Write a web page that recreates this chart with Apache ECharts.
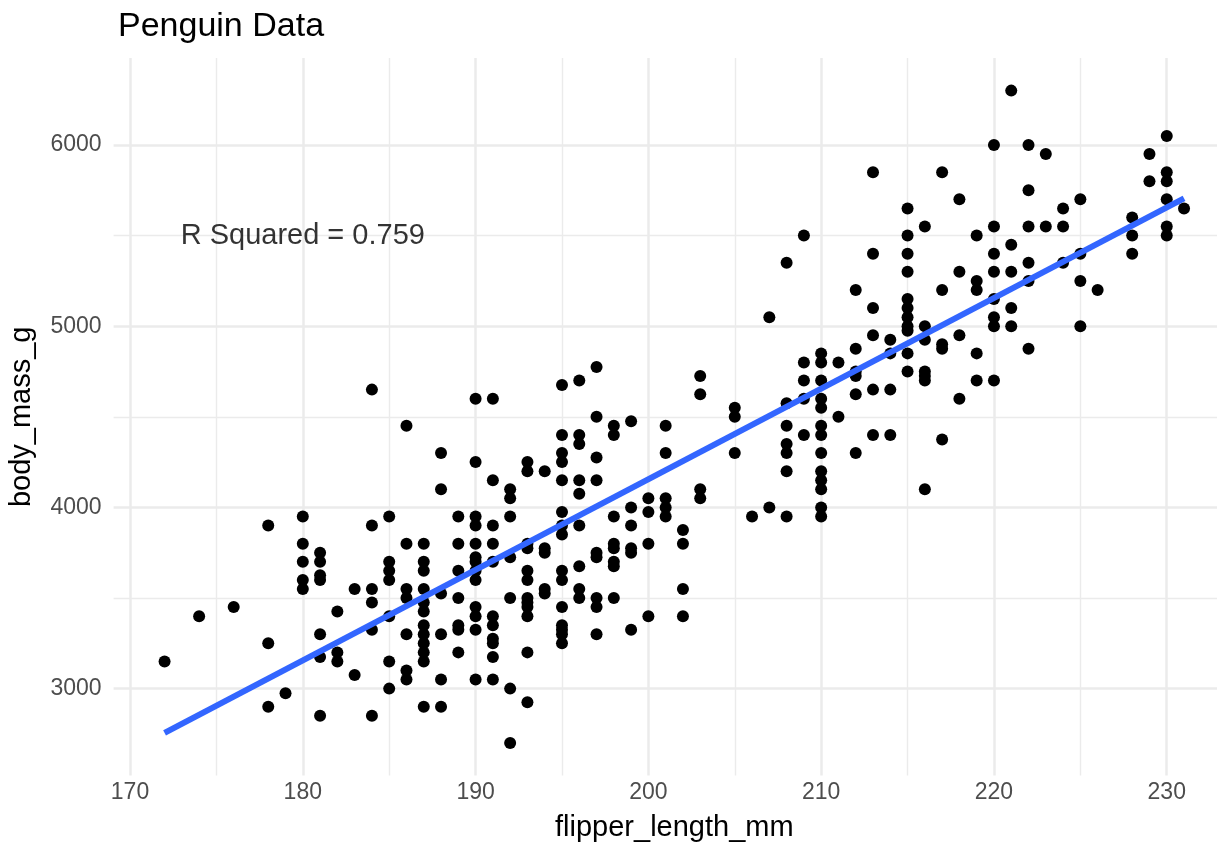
<!DOCTYPE html>
<html>
<head>
<meta charset="utf-8">
<script src="https://cdn.jsdelivr.net/npm/echarts@6/dist/echarts.min.js"></script>
<style>
  html, body { margin: 0; padding: 0; background: #ffffff; }
  #chart { width: 1217px; height: 847px; }
</style>
</head>
<body>
<div id="chart"></div>
<script>
// Flipper lengths (mm) that occur in the sample, and the body masses (g) recorded at each
const flipperLength = [
  172, 174, 176, 178, 179, 180, 181, 182, 183, 184, 185, 186, 187, 188, 189, 190,
  191, 192, 193, 194, 195, 196, 197, 198, 199, 200, 201, 202, 203, 205, 206, 207,
  208, 209, 210, 211, 212, 213, 214, 215, 216, 217, 218, 219, 220, 221, 222, 223,
  224, 225, 226, 228, 229, 230, 231
];
const bodyMass = [
  [3150],
  [3400],
  [3450],
  [3900, 3250, 2900],
  [2975],
  [3950, 3800, 3700, 3600, 3550],
  [3750, 3700, 3625, 3600, 3300, 3175, 2850],
  [3425, 3200, 3150],
  [3550, 3075],
  [4650, 3900, 3550, 3475, 3325, 2850],
  [3950, 3700, 3650, 3600, 3400, 3150, 3000],
  [4450, 3800, 3550, 3500, 3300, 3100, 3050],
  [3800, 3700, 3650, 3550, 3475, 3425, 3350, 3300, 3250, 3200, 3150, 2900],
  [4300, 4100, 3525, 3300, 3050, 2900],
  [3950, 3800, 3650, 3500, 3350, 3325, 3200],
  [4600, 4250, 3950, 3900, 3800, 3725, 3700, 3650, 3600, 3450, 3400, 3325, 3050],
  [4600, 4150, 3900, 3800, 3700, 3400, 3350, 3275, 3250, 3175, 3050],
  [4100, 4050, 3950, 3725, 3500, 3000, 2700],
  [4250, 4200, 3800, 3775, 3650, 3600, 3500, 3475, 3450, 3400, 3200, 2925],
  [4200, 3775, 3750, 3550, 3525],
  [4675, 4400, 4300, 4250, 4150, 3975, 3900, 3850, 3650, 3600, 3450, 3350, 3325, 3300, 3250],
  [4700, 4400, 4350, 4150, 4075, 3900, 3675, 3550, 3500],
  [4775, 4500, 4275, 4150, 3750, 3725, 3500, 3450, 3300],
  [4450, 4400, 3950, 3800, 3775, 3700, 3675, 3500],
  [4475, 4000, 3900, 3775, 3750, 3325],
  [4050, 3975, 3800, 3400],
  [4450, 4300, 4050, 4000, 3950],
  [3875, 3800, 3550, 3400],
  [4725, 4625, 4100, 4050],
  [4550, 4500, 4300],
  [3950],
  [5050, 4000],
  [5350, 4575, 4450, 4350, 4300, 4200, 3950],
  [5500, 4800, 4700, 4600, 4400],
  [4850, 4800, 4700, 4600, 4550, 4450, 4400, 4300, 4200, 4150, 4100, 4000, 3950],
  [4800, 4500],
  [5200, 4875, 4750, 4725, 4625, 4300],
  [5850, 5400, 5100, 4950, 4650, 4400],
  [4925, 4850, 4650, 4400],
  [5650, 5500, 5400, 5300, 5150, 5100, 5050, 5000, 4975, 4850, 4750],
  [5550, 5000, 4925, 4750, 4725, 4700, 4100],
  [5850, 5200, 4900, 4875, 4375],
  [5700, 5300, 4950, 4600],
  [5500, 5250, 5200, 4850, 4700],
  [6000, 5550, 5400, 5300, 5150, 5050, 5000, 4700],
  [6300, 5450, 5300, 5100, 5000],
  [6000, 5750, 5550, 5350, 5250, 4875],
  [5950, 5550],
  [5650, 5550, 5350],
  [5700, 5400, 5250, 5000],
  [5200],
  [5600, 5500, 5400],
  [5950, 5800],
  [6050, 5850, 5800, 5700, 5550, 5500],
  [5650]
];

// Axis breaks
const xMajorTicks = [170, 180, 190, 200, 210, 220, 230];
const xMinorTicks = [175, 185, 195, 205, 215, 225];
const yMajorTicks = [3000, 4000, 5000, 6000];
const yMinorTicks = [3500, 4500, 5500];

// Text
const chartTitle = 'Penguin Data';
const xTitle = 'flipper_length_mm';
const yTitle = 'body_mass_g';
const fitLabel = 'R Squared = 0.759';
const fitLabelAt = [180, 5500];

// (x, y) pairs for every penguin
const points = [];
flipperLength.forEach((fl, i) => bodyMass[i].forEach(m => points.push([fl, m])));

// Ordinary least-squares fit of mass on flipper length
const n = points.length;
const meanX = points.reduce((s, p) => s + p[0], 0) / n;
const meanY = points.reduce((s, p) => s + p[1], 0) / n;
let sxy = 0, sxx = 0;
points.forEach(p => { sxy += (p[0] - meanX) * (p[1] - meanY); sxx += (p[0] - meanX) ** 2; });
const slope = sxy / sxx;
const intercept = meanY - slope * meanX;
const xLo = Math.min(...flipperLength), xHi = Math.max(...flipperLength);
const fitLine = [[xLo, intercept + slope * xLo], [xHi, intercept + slope * xHi]];

// 5% padding around the data range on both axes
const allMass = points.map(p => p[1]);
const yLo = Math.min(...allMass), yHi = Math.max(...allMass);
const xPad = (xHi - xLo) * 0.05, yPad = (yHi - yLo) * 0.05;
const xRange = [xLo - xPad, xHi + xPad];
const yRange = [yLo - yPad, yHi + yPad];

const FONT = '"Liberation Sans", Arial, Helvetica, sans-serif';
const GRID = '#EBEBEB';
const plain = v => String(Math.round(v));

function xAxisDef(ticks, width, withLabels, pos) {
  return {
    type: 'value', position: pos, min: xRange[0], max: xRange[1],
    axisLine: { show: false },
    axisTick: { show: false, customValues: ticks },
    axisLabel: withLabels
      ? { show: true, customValues: ticks, formatter: plain, color: '#4D4D4D', fontSize: 23, fontFamily: FONT, margin: 6 }
      : { show: false },
    splitLine: { show: true, lineStyle: { color: GRID, width: width } },
    name: withLabels ? xTitle : '',
    nameLocation: 'middle', nameGap: 38,
    nameTextStyle: { color: '#000', fontSize: 29, fontFamily: FONT }
  };
}
function yAxisDef(ticks, width, withLabels, pos) {
  return {
    type: 'value', position: pos, min: yRange[0], max: yRange[1],
    axisLine: { show: false },
    axisTick: { show: false, customValues: ticks },
    axisLabel: withLabels
      ? { show: true, customValues: ticks, formatter: plain, color: '#4D4D4D', fontSize: 23, fontFamily: FONT, margin: 12 }
      : { show: false },
    splitLine: { show: true, lineStyle: { color: GRID, width: width } },
    name: withLabels ? yTitle : '',
    nameLocation: 'middle', nameGap: 77, nameRotate: 90,
    nameTextStyle: { color: '#000', fontSize: 29, fontFamily: FONT }
  };
}

const chart = echarts.init(document.getElementById('chart'), null, { renderer: 'canvas' });
chart.setOption({
  animation: false,
  backgroundColor: '#ffffff',
  title: {
    text: chartTitle, left: 113, top: 5,
    textStyle: { color: '#000', fontSize: 34, fontWeight: 'normal', fontFamily: FONT }
  },
  // the panel runs a little past the right edge of the canvas
  grid: {
    left: 113.6, top: 58, width: 1121.4, height: 717.6,
    containLabel: false, outerBoundsMode: 'none'
  },
  xAxis: [
    xAxisDef(xMajorTicks, 2.5, true, 'bottom'),
    xAxisDef(xMinorTicks, 1.4, false, 'top')
  ],
  yAxis: [
    yAxisDef(yMajorTicks, 2.5, true, 'left'),
    yAxisDef(yMinorTicks, 1.4, false, 'right')
  ],
  series: [
    {
      type: 'scatter', data: points, xAxisIndex: 0, yAxisIndex: 0,
      symbol: 'circle', symbolSize: 12,
      itemStyle: { color: '#000000', opacity: 1 }, z: 3
    },
    {
      type: 'line', data: fitLine, xAxisIndex: 0, yAxisIndex: 0,
      symbol: 'none', lineStyle: { color: '#3366FF', width: 6 }, z: 4
    },
    {
      type: 'scatter', data: [fitLabelAt], xAxisIndex: 0, yAxisIndex: 0,
      symbolSize: 0, silent: true, z: 5,
      label: {
        show: true, position: 'inside', formatter: fitLabel,
        color: '#000', fontSize: 29, fontFamily: FONT
      }
    }
  ]
});
</script>
</body>
</html>
